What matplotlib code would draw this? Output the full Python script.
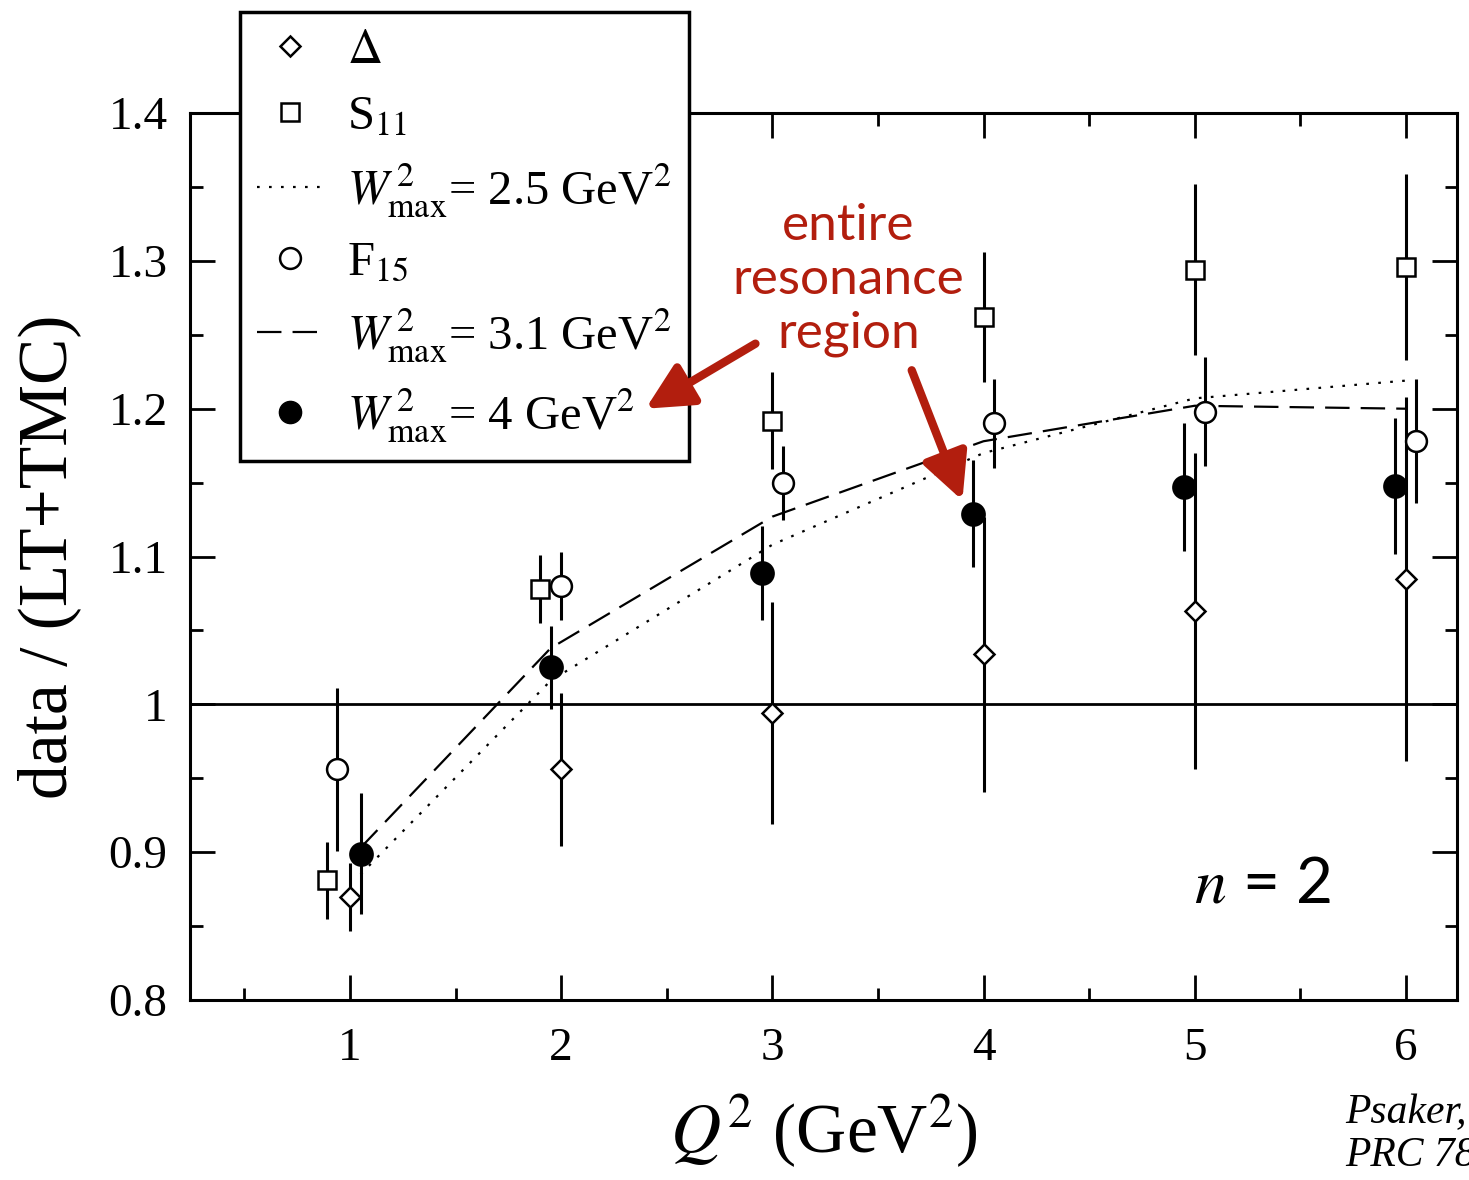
import matplotlib
matplotlib.use('Agg')
import matplotlib.pyplot as plt
from matplotlib.lines import Line2D
from matplotlib.ticker import MultipleLocator

plt.rcParams['font.family'] = ['Liberation Serif', 'DejaVu Serif']
plt.rcParams['mathtext.fontset'] = 'stix'

red = '#b21e0e'

# data
q_delta = [1.0, 2.0, 3.0, 4.0, 5.0, 6.0]
r_delta = [0.870, 0.956, 0.994, 1.034, 1.063, 1.085]
e_delta = [0.023, 0.052, 0.075, 0.093, 0.107, 0.123]

q_s11 = [0.89, 1.9, 3.0, 4.0, 5.0, 6.0]
r_s11 = [0.881, 1.078, 1.192, 1.262, 1.294, 1.296]
e_s11 = [0.026, 0.023, 0.033, 0.044, 0.058, 0.063]

q_f15 = [0.94, 2.0, 3.05, 4.05, 5.05, 6.05]
r_f15 = [0.956, 1.080, 1.150, 1.190, 1.198, 1.178]
e_f15 = [0.055, 0.023, 0.025, 0.030, 0.037, 0.042]

q_w4 = [1.05, 1.95, 2.95, 3.95, 4.95, 5.95]
r_w4 = [0.899, 1.025, 1.089, 1.129, 1.147, 1.148]
e_w4 = [0.041, 0.028, 0.032, 0.036, 0.043, 0.046]

q_line = [1.05, 1.95, 3.0, 4.0, 5.0, 6.0]
r_w25 = [0.885, 1.016, 1.108, 1.170, 1.207, 1.219]
r_w31 = [0.903, 1.038, 1.127, 1.178, 1.202, 1.200]

fig = plt.figure(figsize=(14.69, 11.80), dpi=100)
ax = fig.add_axes([0.1293, 0.1525, 0.8625, 0.7517])

ax.axhline(1.0, color='black', lw=2.0, zorder=1)
ax.plot(q_line, r_w25, color='black', lw=1.6, ls=(0, (1.2, 4.2)), zorder=2)
ax.plot(q_line, r_w31, color='black', lw=1.6, ls=(0, (11, 5)), zorder=2)

ebkw = dict(capsize=0, elinewidth=2.2, ecolor='black', mec='black', mew=1.8, ls='none', zorder=3)
ax.errorbar(q_delta, r_delta, yerr=e_delta, fmt='D', ms=10.5, mfc='white', **ebkw)
ax.errorbar(q_s11, r_s11, yerr=e_s11, fmt='s', ms=13, mfc='white', **ebkw)
ax.errorbar(q_f15, r_f15, yerr=e_f15, fmt='o', ms=15, mfc='white', **ebkw)
ax.errorbar(q_w4, r_w4, yerr=e_w4, fmt='o', ms=16, mfc='black', **ebkw)

ax.set_xlim(0.242, 6.242)
ax.set_ylim(0.8, 1.4)
ax.xaxis.set_major_locator(MultipleLocator(1))
ax.xaxis.set_minor_locator(MultipleLocator(0.5))
ax.yaxis.set_minor_locator(MultipleLocator(0.05))
ax.set_yticks([0.8, 0.9, 1.0, 1.1, 1.2, 1.3, 1.4])
ax.set_yticklabels(['0.8', '0.9', '1', '1.1', '1.2', '1.3', '1.4'])
ax.tick_params(which='both', direction='in', top=True, right=True, labelsize=34, width=2)
ax.tick_params(axis='y', pad=16)
ax.tick_params(axis='x', pad=20)
ax.tick_params(which='major', length=18)
ax.tick_params(which='minor', length=9)
for s in ax.spines.values():
    s.set_linewidth(2.2)

ax.set_xlabel(r'$Q^2$ (GeV$^2$)', fontsize=50, labelpad=16)
ax.set_ylabel('data / (LT+TMC)', fontsize=50, labelpad=20)

handles = [
    Line2D([], [], marker='D', ms=10.5, mfc='white', mec='black', mew=1.8, ls='none'),
    Line2D([], [], marker='s', ms=13, mfc='white', mec='black', mew=1.8, ls='none'),
    Line2D([], [], color='black', lw=1.6, ls=(0, (1.2, 4.2))),
    Line2D([], [], marker='o', ms=15, mfc='white', mec='black', mew=1.8, ls='none'),
    Line2D([], [], color='black', lw=1.6, ls=(0, (11, 5))),
    Line2D([], [], marker='o', ms=16, mfc='black', mec='black', ls='none'),
]
labels = [r'$\Delta$', r'S$_{11}$', r'$W^{\,2}_{\rm max}$= 2.5 GeV$^2$', r'F$_{15}$',
          r'$W^{\,2}_{\rm max}$= 3.1 GeV$^2$', r'$W^{\,2}_{\rm max}$= 4 GeV$^2$']
leg = ax.legend(handles, labels, loc='upper left', bbox_to_anchor=(0.1634, 0.9898),
                bbox_transform=fig.transFigure, fontsize=35, frameon=True, fancybox=False,
                framealpha=1, borderaxespad=0, handlelength=1.35, handletextpad=0.5,
                labelspacing=0.45, borderpad=0.35)
leg.get_frame().set_edgecolor('black')
leg.get_frame().set_linewidth(2.5)
leg.set_zorder(5)

ax.text(3.36, 1.287, 'entire\nresonance\nregion', color=red, fontsize=37, family='Lato',
        ha='center', va='center', linespacing=1.2, zorder=6)
arrowkw = dict(arrowstyle='-|>,head_length=0.7,head_width=0.35', color=red, lw=6,
               mutation_scale=40, shrinkA=0, shrinkB=0)
ax.annotate('', xy=(2.40, 1.200), xytext=(2.92, 1.244), arrowprops=arrowkw, zorder=7,
            annotation_clip=False)
ax.annotate('', xy=(3.90, 1.138), xytext=(3.66, 1.226), arrowprops=arrowkw, zorder=7)

ax.text(5.32, 0.878, r'$\it{n}$ = 2', fontsize=46, family='Lato', ha='center', va='center')
fig.text(0.9156, 0.0385, 'Psaker,\nPRC 78', fontsize=30, style='italic', ha='left',
         va='center', linespacing=1.15)

fig.savefig('out.png', dpi=100)
